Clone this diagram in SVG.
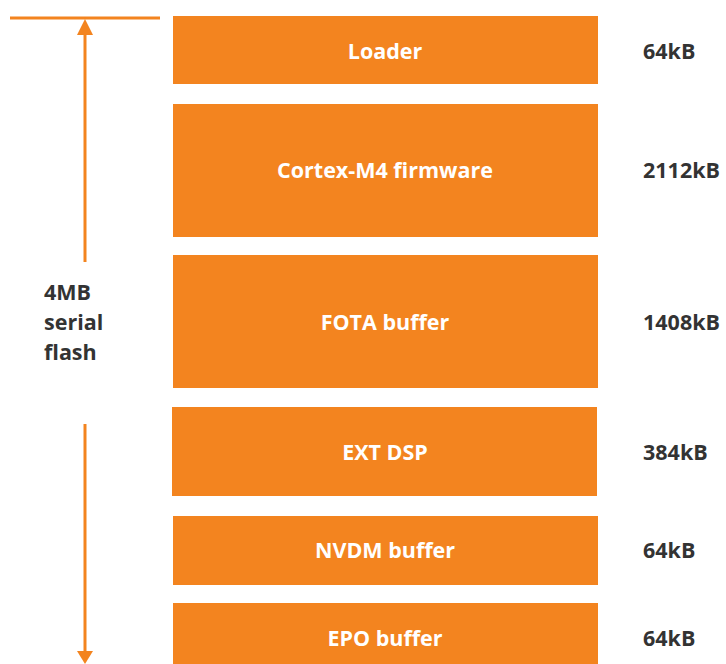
<svg xmlns="http://www.w3.org/2000/svg" width="726" height="664" viewBox="0 0 726 664">
<style>
.blk{fill:#F3841F}
.in{font-family:"Open Sans","Liberation Sans",sans-serif;font-weight:bold;font-size:21.5px;fill:#fff;text-anchor:middle}
.sz{font-family:"Open Sans","Liberation Sans",sans-serif;font-weight:bold;font-size:21.5px;fill:#333}
.ln{stroke:#F3841F;stroke-width:3;fill:none}
</style>
<rect width="726" height="664" fill="#fff"/>
<g id="connectors">
<line class="ln" x1="10" y1="18" x2="160" y2="18"/>
<line class="ln" x1="85" y1="262" x2="85" y2="32"/>
<polygon points="85,19 77,35 93,35" fill="#F3841F"/>
<line class="ln" x1="85" y1="424" x2="85" y2="652"/>
<polygon points="85,664 77,651 93,651" fill="#F3841F"/>
</g>
<g id="label-flash">
<text class="sz" x="44" y="300">4MB</text>
<text class="sz" x="44" y="330">serial</text>
<text class="sz" x="44" y="360">flash</text>
</g>
<g id="loader">
<rect class="blk" x="173" y="16" width="425" height="68"/>
<text class="in" x="385" y="59">Loader</text>
<text class="sz" x="643" y="59">64kB</text>
</g>
<g id="cortex">
<rect class="blk" x="173" y="104" width="425" height="133"/>
<text class="in" x="385" y="178">Cortex-M4 firmware</text>
<text class="sz" x="643" y="178">2112kB</text>
</g>
<g id="fota">
<rect class="blk" x="173" y="255" width="425" height="133"/>
<text class="in" x="385" y="330">FOTA buffer</text>
<text class="sz" x="643" y="330">1408kB</text>
</g>
<g id="extdsp">
<rect class="blk" x="172" y="407" width="425" height="89"/>
<text class="in" x="385" y="460">EXT DSP</text>
<text class="sz" x="643" y="460">384kB</text>
</g>
<g id="nvdm">
<rect class="blk" x="173" y="516" width="425" height="69"/>
<text class="in" x="385" y="558">NVDM buffer</text>
<text class="sz" x="643" y="558">64kB</text>
</g>
<g id="epo">
<rect class="blk" x="173" y="603" width="425" height="61"/>
<text class="in" x="385" y="646">EPO buffer</text>
<text class="sz" x="643" y="646">64kB</text>
</g>
</svg>
